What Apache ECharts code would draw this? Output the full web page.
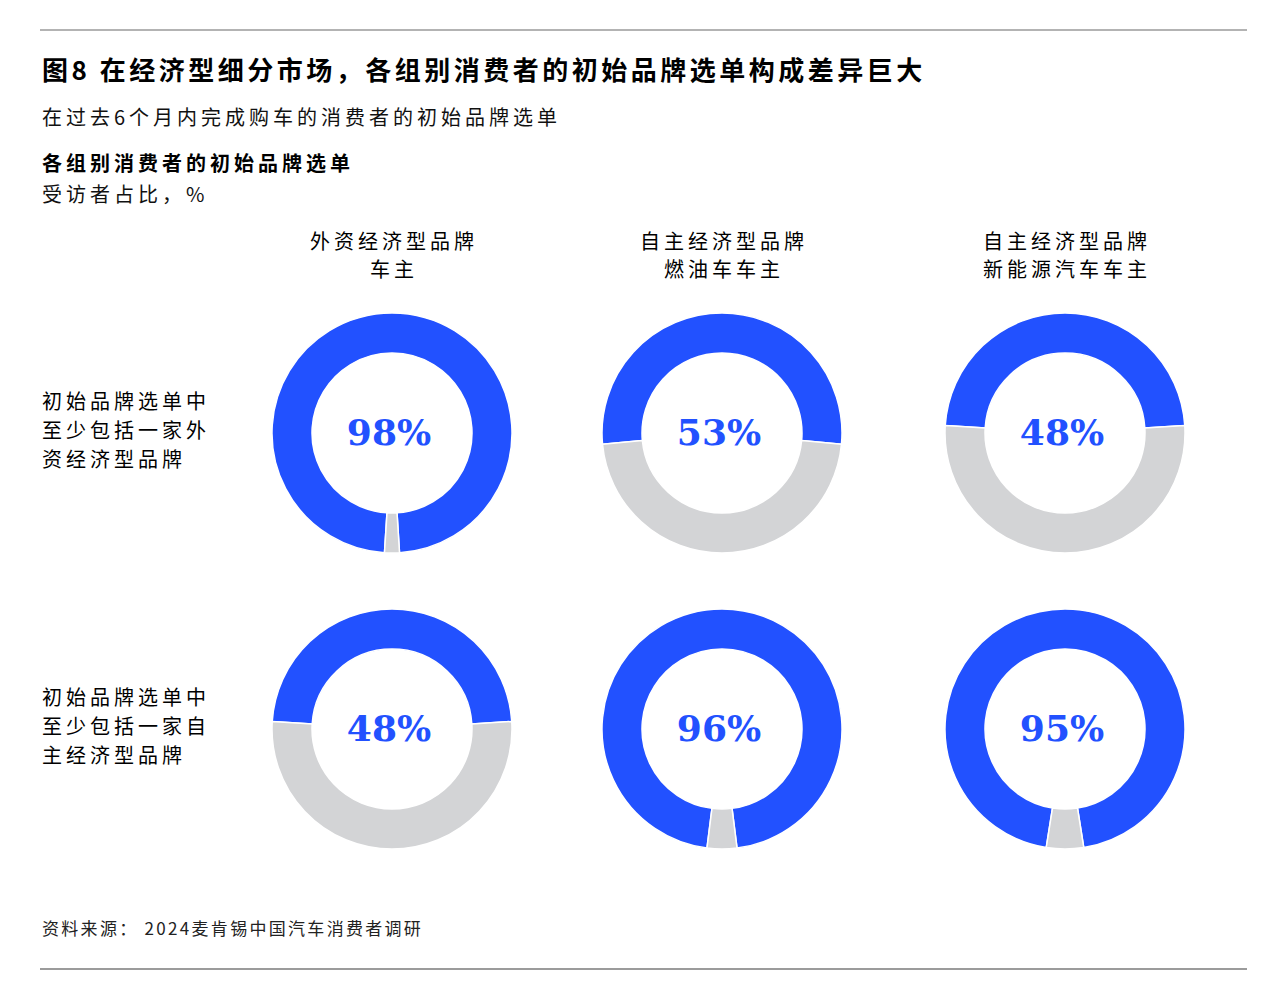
<!DOCTYPE html>
<html>
<head>
<meta charset="utf-8">
<script src="https://cdn.jsdelivr.net/npm/echarts/dist/echarts.min.js"></script>
<style>
html,body{margin:0;padding:0;background:#fff;}
#chart{width:1280px;height:982px;}
</style>
</head>
<body>
<div id="chart"></div>
<script>
// ---- data ----
const titleText = '图8 在经济型细分市场，各组别消费者的初始品牌选单构成差异巨大';
const subtitleText = '在过去6个月内完成购车的消费者的初始品牌选单';
const sectionTitle = '各组别消费者的初始品牌选单';
const unitText = '受访者占比，%';
const sourceText = '资料来源： 2024麦肯锡中国汽车消费者调研';
const columnHeaders = ['外资经济型品牌\n车主', '自主经济型品牌\n燃油车车主', '自主经济型品牌\n新能源汽车车主'];
const rowLabels = ['初始品牌选单中\n至少包括一家外\n资经济型品牌', '初始品牌选单中\n至少包括一家自\n主经济型品牌'];
const foreignBrandShare = [98, 53, 48];   // row 1
const domesticBrandShare = [48, 96, 95];  // row 2
const rowValues = [foreignBrandShare, domesticBrandShare];

// ---- layout / style ----
const colX = [392, 722, 1065];
const rowY = [433, 729];
const BLUE = '#2251FF';
const GREY = '#D3D4D6';
const CJK = '"Noto Sans CJK SC", "Noto Sans", sans-serif';

const chart = echarts.init(document.getElementById('chart'), null, {renderer: 'svg'});

const series = [];
rowValues.forEach((vals, r) => {
  vals.forEach((v, c) => {
    series.push({
      type: 'pie',
      center: [colX[c], rowY[r]],
      radius: [80, 120],
      startAngle: 90 + v * 1.8,
      clockwise: true,
      silent: true,
      avoidLabelOverlap: false,
      labelLine: {show: false},
      itemStyle: {borderColor: '#fff', borderWidth: 1.5},
      emphasis: {disabled: true},
      data: [
        {value: v, name: '是', itemStyle: {color: BLUE},
         label: {show: true, position: 'center', formatter: '{c}%',
                 fontFamily: '"DejaVu Serif", serif', fontWeight: 'bold',
                 fontSize: 36, color: BLUE, offset: [-3, -1]}},
        {value: 100 - v, name: '否', itemStyle: {color: GREY}, label: {show: false}}
      ]
    });
  });
});

const graphics = [
  {type: 'line', shape: {x1: 40, y1: 30, x2: 1247, y2: 30}, style: {stroke: '#9a9a9a', lineWidth: 1.5}},
  {type: 'line', shape: {x1: 40, y1: 969, x2: 1247, y2: 969}, style: {stroke: '#7a7a7a', lineWidth: 1.5}},
  {type: 'text', x: 42, y: 68, style: {text: titleText, font: 'bold 26px ' + CJK, fill: '#000', textVerticalAlign: 'middle'}},
  {type: 'text', x: 42, y: 116, style: {text: subtitleText, font: '20px ' + CJK, fill: '#111', textVerticalAlign: 'middle'}},
  {type: 'text', x: 42, y: 162, style: {text: sectionTitle, font: 'bold 20px ' + CJK, fill: '#000', textVerticalAlign: 'middle'}},
  {type: 'text', x: 42, y: 193, style: {text: unitText, font: '20px ' + CJK, fill: '#111', textVerticalAlign: 'middle'}},
  {type: 'text', x: 42, y: 927, style: {text: sourceText, font: '17px ' + CJK, fill: '#222', textVerticalAlign: 'middle'}}
];
columnHeaders.forEach((t, c) => {
  graphics.push({type: 'text', x: colX[c] + 2, y: 254,
    style: {text: t, font: '20px ' + CJK, fill: '#000', textAlign: 'center', textVerticalAlign: 'middle', lineHeight: 28}});
});
rowLabels.forEach((t, r) => {
  graphics.push({type: 'text', x: 42, y: rowY[r] - 4,
    style: {text: t, font: '20px ' + CJK, fill: '#000', textAlign: 'left', textVerticalAlign: 'middle', lineHeight: 29}});
});

chart.setOption({
  backgroundColor: '#fff',
  animation: false,
  series: series,
  graphic: graphics
});

// widen CJK text tracking to match the reference typography
function applyTracking() {
  const nodes = document.querySelectorAll('#chart svg text');
  nodes.forEach(n => {
    const t = n.textContent || '';
    if (/^\d+%$/.test(t.trim())) return;
    let ls = 4;
    if (t.indexOf('图8') === 0) ls = 3.5;
    else if (t.indexOf('资料来源') === 0) ls = 2.3;
    n.setAttribute('letter-spacing', ls + 'px');
  });
}
chart.on('finished', applyTracking);
applyTracking();
setTimeout(applyTracking, 50);
setTimeout(applyTracking, 300);
</script>
</body>
</html>
